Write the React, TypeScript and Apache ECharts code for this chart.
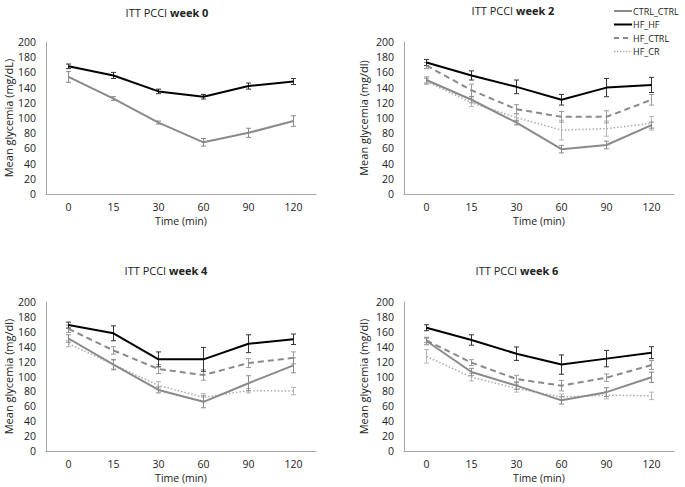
import React, { useEffect, useRef } from "react";
import * as echarts from "echarts";

const categories = ["0", "15", "30", "60", "90", "120"];
const seriesNames = ["CTRL_CTRL", "HF_HF", "HF_CTRL", "HF_CR"];
const panelTitles = ["week 0", "week 2", "week 4", "week 6"];
const yAxisNames = [
  "Mean glycemia (mg/dL)",
  "Mean glycemia (mg/dl)",
  "Mean glycemia (mg/dl)",
  "Mean glycemia (mg/dl)",
];

// week 0
const w0_CTRL_CTRL = [154, 125.6, 94, 68, 80.5, 96];
const w0_CTRL_CTRL_err = [7, 2.5, 2, 5, 6, 7];
const w0_HF_HF = [168, 156, 135, 128, 142, 148];
const w0_HF_HF_err = [3, 4, 3, 3, 4, 4];

// week 2
const w2_CTRL_CTRL = [150, 124, 94, 59, 64.5, 90.6];
const w2_CTRL_CTRL_err = [4, 4, 3, 5, 5, 4];
const w2_HF_HF = [173, 156, 141, 124, 140, 143.5];
const w2_HF_HF_err = [4, 6, 9, 7, 12, 10];
const w2_HF_CTRL = [169, 136.5, 111.6, 101.5, 101.5, 124];
const w2_HF_CTRL_err = [4, 8, 6, 7, 8, 7];
const w2_HF_CR = [148, 120, 100.6, 84, 86, 93];
const w2_HF_CR_err = [4, 5, 5, 13, 10, 9];

// week 4
const w4_CTRL_CTRL = [151, 116, 82, 66, 91, 115];
const w4_CTRL_CTRL_err = [5, 7, 4, 8, 10, 10];
const w4_HF_HF = [169, 158, 123, 123, 144, 150];
const w4_HF_HF_err = [4, 10, 10, 16, 12, 7];
const w4_HF_CTRL = [164, 135, 110, 102, 118, 125];
const w4_HF_CTRL_err = [5, 5, 6, 7, 6, 8];
const w4_HF_CR = [144, 116, 88, 72, 81, 80.5];
const w4_HF_CR_err = [4, 6, 5, 5, 3, 5];

// week 6
const w6_CTRL_CTRL = [147.6, 106, 87.7, 68, 79, 99];
const w6_CTRL_CTRL_err = [5, 5, 5, 5, 6, 7];
const w6_HF_HF = [165.5, 149, 130.6, 116, 124, 132];
const w6_HF_HF_err = [4, 7, 9, 13, 11, 8];
const w6_HF_CTRL = [148.5, 118.6, 96.6, 87.7, 98.4, 115.4];
const w6_HF_CTRL_err = [3, 4, 5, 7, 5, 6];
const w6_HF_CR = [127, 99, 84, 72.5, 75, 74];
const w6_HF_CR_err = [9, 5, 5, 4, 5, 5];

type SeriesDef = { name: string; values: number[]; err: number[] };

const panels: SeriesDef[][] = [
  [
    { name: "CTRL_CTRL", values: w0_CTRL_CTRL, err: w0_CTRL_CTRL_err },
    { name: "HF_HF", values: w0_HF_HF, err: w0_HF_HF_err },
  ],
  [
    { name: "HF_CR", values: w2_HF_CR, err: w2_HF_CR_err },
    { name: "HF_CTRL", values: w2_HF_CTRL, err: w2_HF_CTRL_err },
    { name: "CTRL_CTRL", values: w2_CTRL_CTRL, err: w2_CTRL_CTRL_err },
    { name: "HF_HF", values: w2_HF_HF, err: w2_HF_HF_err },
  ],
  [
    { name: "HF_CR", values: w4_HF_CR, err: w4_HF_CR_err },
    { name: "HF_CTRL", values: w4_HF_CTRL, err: w4_HF_CTRL_err },
    { name: "CTRL_CTRL", values: w4_CTRL_CTRL, err: w4_CTRL_CTRL_err },
    { name: "HF_HF", values: w4_HF_HF, err: w4_HF_HF_err },
  ],
  [
    { name: "HF_CR", values: w6_HF_CR, err: w6_HF_CR_err },
    { name: "HF_CTRL", values: w6_HF_CTRL, err: w6_HF_CTRL_err },
    { name: "CTRL_CTRL", values: w6_CTRL_CTRL, err: w6_CTRL_CTRL_err },
    { name: "HF_HF", values: w6_HF_HF, err: w6_HF_HF_err },
  ],
];

const styles: Record<string, { color: string; width: number; type: any; err: string }> = {
  CTRL_CTRL: { color: "#8a8a8a", width: 2, type: "solid", err: "#8a8a8a" },
  HF_HF: { color: "#000000", width: 2, type: "solid", err: "#333333" },
  HF_CTRL: { color: "#8a8a8a", width: 2, type: [6, 4], err: "#9a9a9a" },
  HF_CR: { color: "#ababab", width: 1.5, type: [1.5, 2], err: "#b5b5b5" },
};

const FONT = "Open Sans";

const grids = [
  { left: 46, top: 42, width: 270, height: 152 },
  { left: 404, top: 42, width: 270, height: 152 },
  { left: 46, top: 302, width: 270, height: 149 },
  { left: 404, top: 302, width: 270, height: 149 },
];
const titlePos = [
  { x: 162, y: 2 },
  { x: 508, y: 0 },
  { x: 161, y: 260 },
  { x: 512, y: 260 },
];
const yNameGap = [31, 35, 31, 35];
const legendY = [11, 24.5, 38, 51.5];

export default function App() {
  const ref = useRef<HTMLDivElement>(null);
  useEffect(() => {
    if (!ref.current) return;
    const chart = echarts.init(ref.current, undefined, { renderer: "svg" });

    const series: any[] = [];
    panels.forEach((defs, pi) => {
      defs.forEach((d) => {
        const st = styles[d.name];
        series.push({
          type: "custom",
          name: d.name + "_err",
          xAxisIndex: pi,
          yAxisIndex: pi,
          z: 3,
          silent: true,
          data: d.values.map((v, i) => [i, v - d.err[i], v + d.err[i]]),
          encode: { x: 0, y: [1, 2] },
          renderItem: (params: any, api: any) => {
            const x = api.value(0);
            const lo = api.coord([x, api.value(1)]);
            const hi = api.coord([x, api.value(2)]);
            const cw = 2.5;
            const s = { stroke: st.err, lineWidth: 1 };
            return {
              type: "group",
              children: [
                { type: "line", shape: { x1: lo[0], y1: lo[1], x2: hi[0], y2: hi[1] }, style: s },
                { type: "line", shape: { x1: lo[0] - cw, y1: lo[1], x2: lo[0] + cw, y2: lo[1] }, style: s },
                { type: "line", shape: { x1: hi[0] - cw, y1: hi[1], x2: hi[0] + cw, y2: hi[1] }, style: s },
              ],
            };
          },
        });
        series.push({
          type: "line",
          name: d.name,
          xAxisIndex: pi,
          yAxisIndex: pi,
          z: 4,
          symbol: "none",
          data: d.values,
          lineStyle: { color: st.color, width: st.width, type: st.type },
          itemStyle: { color: st.color },
        });
      });
    });

    const legendGraphics: any[] = [];
    seriesNames.forEach((n, i) => {
      const st = styles[n];
      const dash = st.type === "solid" ? null : n === "HF_CTRL" ? [5, 4] : [1.5, 1.5];
      legendGraphics.push({
        type: "line",
        shape: { x1: 614, y1: legendY[i], x2: 632, y2: legendY[i] },
        style: { stroke: st.color, lineWidth: st.width, lineDash: dash },
      });
      legendGraphics.push({
        type: "text",
        x: 633,
        y: legendY[i],
        style: {
          text: n,
          fontFamily: FONT,
          fontSize: 9,
          fill: "#222",
          textAlign: "left",
          textVerticalAlign: "middle",
        },
      });
    });

    const option: any = {
      animation: false,
      textStyle: { fontFamily: FONT },
      title: panelTitles.map((t, i) => ({
        text: "{a|ITT PCCI }{b|" + t + "}",
        left: titlePos[i].x,
        top: titlePos[i].y,
        textAlign: "center",
        textStyle: {
          rich: {
            a: { fontFamily: FONT, fontSize: 11, color: "#222", fontWeight: "normal" },
            b: { fontFamily: FONT, fontSize: 11, color: "#222", fontWeight: "bold" },
          },
        },
      })),
      graphic: legendGraphics,
      grid: grids.map((g) => ({ ...g, containLabel: false })),
      xAxis: grids.map((_, i) => ({
        type: "category",
        gridIndex: i,
        data: categories,
        boundaryGap: true,
        name: "Time (min)",
        nameLocation: "middle",
        nameGap: 21,
        nameTextStyle: { fontFamily: FONT, fontSize: 10.5, color: "#222" },
        axisLine: { lineStyle: { color: "#a6a6a6", width: 1 } },
        axisTick: { show: false },
        axisLabel: { fontFamily: FONT, fontSize: 10.5, color: "#222", margin: 7 },
        splitLine: { show: false },
      })),
      yAxis: grids.map((_, i) => ({
        type: "value",
        gridIndex: i,
        min: 0,
        max: 200,
        interval: 20,
        name: yAxisNames[i],
        nameLocation: "middle",
        nameGap: yNameGap[i],
        nameTextStyle: { fontFamily: FONT, fontSize: 11, color: "#222" },
        axisLine: { show: true, lineStyle: { color: "#a6a6a6", width: 1 } },
        axisTick: { show: false },
        axisLabel: { fontFamily: FONT, fontSize: 10.5, color: "#222", margin: 10 },
        splitLine: { show: false },
      })),
      series,
    };
    chart.setOption(option);
    return () => chart.dispose();
  }, []);
  return (
    <div style={{ position: "fixed", left: 0, top: 0, width: 685, height: 487, background: "#fff" }}>
      <div ref={ref} style={{ width: 685, height: 487 }} />
    </div>
  );
}
